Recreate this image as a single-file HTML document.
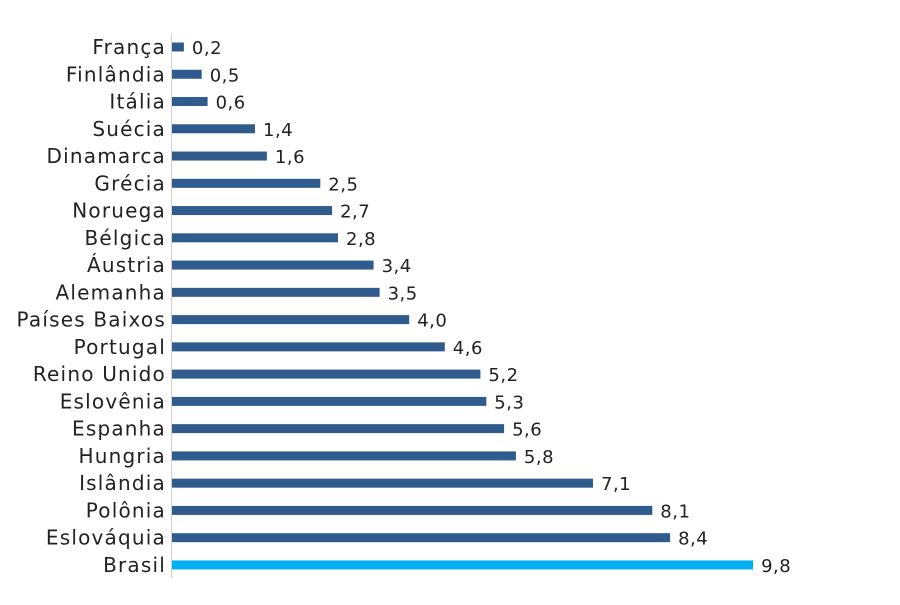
<!DOCTYPE html>
<html><head><meta charset="utf-8"><style>
body{margin:0;background:#fff;width:900px;height:600px;overflow:hidden;}
svg text{font-family:"DejaVu Sans","Liberation Sans",sans-serif;font-size:18px;fill:#222;letter-spacing:0.5px;}
.l{text-anchor:end;letter-spacing:1.2px;font-size:20px;}
</style></head><body>
<svg width="900" height="600" xmlns="http://www.w3.org/2000/svg">
<line x1="171.5" y1="33" x2="171.5" y2="578" stroke="#d0d0d0" stroke-width="1"/>
<g fill="#2f5b8d">
<rect x="172" y="42.5" width="11.9" height="9"/>
<rect x="172" y="69.76" width="29.7" height="9"/>
<rect x="172" y="97.02" width="35.6" height="9"/>
<rect x="172" y="124.28" width="83" height="9"/>
<rect x="172" y="151.54" width="94.9" height="9"/>
<rect x="172" y="178.8" width="148.3" height="9"/>
<rect x="172" y="206.06" width="160.1" height="9"/>
<rect x="172" y="233.32" width="166" height="9"/>
<rect x="172" y="260.58" width="201.6" height="9"/>
<rect x="172" y="287.84" width="207.6" height="9"/>
<rect x="172" y="315.1" width="237.2" height="9"/>
<rect x="172" y="342.36" width="272.8" height="9"/>
<rect x="172" y="369.62" width="308.4" height="9"/>
<rect x="172" y="396.88" width="314.3" height="9"/>
<rect x="172" y="424.14" width="332.1" height="9"/>
<rect x="172" y="451.4" width="343.9" height="9"/>
<rect x="172" y="478.66" width="421" height="9"/>
<rect x="172" y="505.92" width="480.3" height="9"/>
<rect x="172" y="533.18" width="498.1" height="9"/>
</g>
<rect x="172" y="560.44" width="581.1" height="9" fill="#00b0f0"/>
<g>
<text class="l" x="166" y="54">França</text>
<text class="l" x="166" y="81.26">Finlândia</text>
<text class="l" x="166" y="108.52">Itália</text>
<text class="l" x="166" y="135.78">Suécia</text>
<text class="l" x="166" y="163.04">Dinamarca</text>
<text class="l" x="166" y="190.3">Grécia</text>
<text class="l" x="166" y="217.56">Noruega</text>
<text class="l" x="166" y="244.82">Bélgica</text>
<text class="l" x="166" y="272.08">Áustria</text>
<text class="l" x="166" y="299.34">Alemanha</text>
<text class="l" x="166" y="326.6">Países Baixos</text>
<text class="l" x="166" y="353.86">Portugal</text>
<text class="l" x="166" y="381.12">Reino Unido</text>
<text class="l" x="166" y="408.38">Eslovênia</text>
<text class="l" x="166" y="435.64">Espanha</text>
<text class="l" x="166" y="462.9">Hungria</text>
<text class="l" x="166" y="490.16">Islândia</text>
<text class="l" x="166" y="517.42">Polônia</text>
<text class="l" x="166" y="544.68">Eslováquia</text>
<text class="l" x="166" y="571.94">Brasil</text>
</g>
<text x="191.9" y="54">0,2</text>
<text x="209.7" y="81.26">0,5</text>
<text x="215.6" y="108.52">0,6</text>
<text x="263" y="135.78">1,4</text>
<text x="274.9" y="163.04">1,6</text>
<text x="328.3" y="190.3">2,5</text>
<text x="340.1" y="217.56">2,7</text>
<text x="346" y="244.82">2,8</text>
<text x="381.6" y="272.08">3,4</text>
<text x="387.6" y="299.34">3,5</text>
<text x="417.2" y="326.6">4,0</text>
<text x="452.8" y="353.86">4,6</text>
<text x="488.4" y="381.12">5,2</text>
<text x="494.3" y="408.38">5,3</text>
<text x="512.1" y="435.64">5,6</text>
<text x="523.9" y="462.9">5,8</text>
<text x="601" y="490.16">7,1</text>
<text x="660.3" y="517.42">8,1</text>
<text x="678.1" y="544.68">8,4</text>
<text x="761.1" y="571.94">9,8</text>
</svg>
</body></html>
